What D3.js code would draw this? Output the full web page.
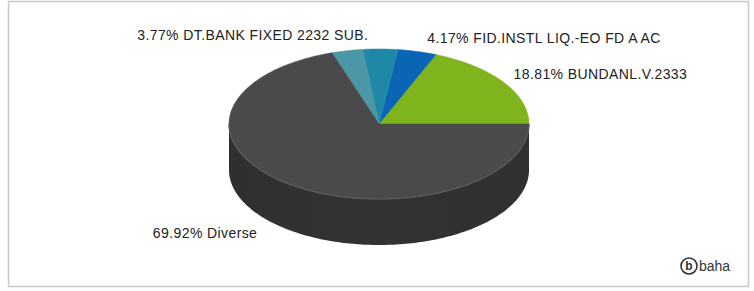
<!DOCTYPE html>
<html>
<head>
<meta charset="utf-8">
<script src="https://cdn.jsdelivr.net/npm/d3@7"></script>
<style>
  body { margin: 0; background: #fff; }
  svg { display: block; }
</style>
</head>
<body>
<div class="chart"></div>
<script>
// slice order goes counter-clockwise from 3 o'clock
const categories = ["BUNDANL.V.2333", "FID.INSTL LIQ.-EO FD A AC", "DT.BANK FIXED 2232 SUB.", "", "Diverse"];
const values = [18.81, 4.17, 3.77, 3.33, 69.92];
const topColors = ["#7fb41d", "#0a65b4", "#2088a7", "#4b97a5", "#4a4a4a"];
const sideColors = ["#5f8a14", "#064d8a", "#176680", "#37737e", "#333333"];

const WIDTH = 754, HEIGHT = 291;
const cx = 379, cy = 124, rx = 150, ry = 75, depth = 46;

const svg = d3.select(".chart").append("svg")
  .attr("width", WIDTH)
  .attr("height", HEIGHT);

// outer frame
svg.append("rect")
  .attr("x", 8.5).attr("y", 1.5)
  .attr("width", 740).attr("height", 285)
  .attr("fill", "#fff")
  .attr("stroke", "#c9c9c9")
  .attr("stroke-width", 1.5);

const data = values.map((v, i) => ({ name: categories[i], value: v, i: i }));

// d3 angles: clockwise from 12 o'clock; start at 3 o'clock and go the other way
const pie = d3.pie()
  .sort(null)
  .value(d => d.value)
  .startAngle(Math.PI / 2)
  .endAngle(Math.PI / 2 - 2 * Math.PI);

const arcs = pie(data);

const px = a => cx + rx * Math.sin(a);
const py = a => cy - ry * Math.cos(a);

function arcPoints(a0, a1, dy) {
  const n = Math.max(2, Math.ceil(Math.abs(a1 - a0) / 0.02));
  return d3.range(n + 1).map(k => {
    const a = a0 + (a1 - a0) * k / n;
    return [px(a), py(a) + dy];
  });
}

const line = d3.line();

// side gradient
const defs = svg.append("defs");
arcs.forEach((d, i) => {
  const g = defs.append("linearGradient")
    .attr("id", "side" + i)
    .attr("x1", "0").attr("x2", "1").attr("y1", "0").attr("y2", "0");
  g.append("stop").attr("offset", "0%").attr("stop-color", d3.color(sideColors[i]).darker(0.25));
  g.append("stop").attr("offset", "45%").attr("stop-color", sideColors[i]);
  g.append("stop").attr("offset", "100%").attr("stop-color", d3.color(sideColors[i]).darker(0.15));
});

// outer walls: only the front half (cos < 0) is visible
const frontLo = -3 * Math.PI / 2, frontHi = -Math.PI / 2;
const sides = svg.append("g").attr("class", "sides");
arcs.forEach((d, i) => {
  const lo = Math.max(Math.min(d.startAngle, d.endAngle), frontLo);
  const hi = Math.min(Math.max(d.startAngle, d.endAngle), frontHi);
  if (hi <= lo) return;
  const pts = arcPoints(lo, hi, 0).concat(arcPoints(hi, lo, depth));
  sides.append("path")
    .attr("d", line(pts) + "Z")
    .attr("fill", "url(#side" + i + ")");
});

// top faces
const tops = svg.append("g").attr("class", "tops");
arcs.forEach((d, i) => {
  const pts = [[cx, cy]].concat(arcPoints(d.startAngle, d.endAngle, 0));
  tops.append("path")
    .attr("d", line(pts) + "Z")
    .attr("fill", topColors[i])
    .attr("stroke", topColors[i])
    .attr("stroke-width", 0.5);
});

// soft highlight along the front rim
svg.append("path")
  .attr("d", line(arcPoints(frontLo, frontHi, 0)))
  .attr("fill", "none")
  .attr("stroke", "#5c5c5c")
  .attr("stroke-width", 1.2);

// labels
const labels = svg.append("g").attr("class", "labels");
arcs.forEach(d => {
  if (!d.data.name) return;
  const m = (d.startAngle + d.endAngle) / 2;
  const ux = Math.sin(m), uy = -Math.cos(m);
  const front = Math.max(0, uy);
  const start = ux > 0.1;
  const x = cx + (rx + depth * front) * ux + (start ? 10 : -12);
  const y = cy + (ry + 14) * uy + depth * front;
  labels.append("text")
    .attr("x", x)
    .attr("y", y)
    .attr("dy", "0.35em")
    .attr("text-anchor", start ? "start" : "end")
    .style("font-family", "'Liberation Sans', Arial, sans-serif")
    .style("font-size", "14px")
    .style("letter-spacing", "0.4px")
    .style("fill", "#222")
    .text(d3.format(".2f")(d.data.value) + "% " + d.data.name);
});

// baha logo
const logo = svg.append("g").attr("transform", "translate(689,266)");
logo.append("circle")
  .attr("r", 8)
  .attr("fill", "#fff")
  .attr("stroke", "#333")
  .attr("stroke-width", 1.6);
logo.append("text")
  .attr("y", 0)
  .attr("dy", "0.36em")
  .attr("text-anchor", "middle")
  .style("font-family", "'Liberation Sans', Arial, sans-serif")
  .style("font-size", "12px")
  .style("font-weight", "bold")
  .style("fill", "#333")
  .text("b");
logo.append("text")
  .attr("x", 10)
  .attr("dy", "0.35em")
  .style("font-family", "'Liberation Sans', Arial, sans-serif")
  .style("font-size", "14px")
  .style("fill", "#333")
  .text("baha");
</script>
</body>
</html>
